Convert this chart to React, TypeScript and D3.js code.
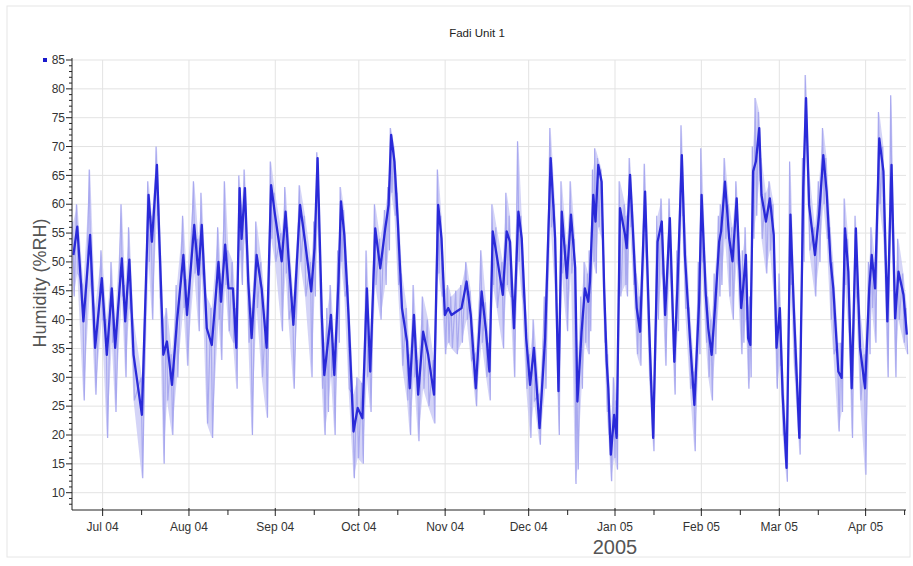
import React from 'react';
import * as d3 from 'd3';

const chartTitle = 'Fadi Unit 1';
const yAxisTitle = 'Humidity (%RH)';
const yearLabel = '2005';
const monthTickDates = ['2004-07-01','2004-08-01','2004-09-01','2004-10-01','2004-11-01','2004-12-01','2005-01-01','2005-02-01','2005-03-01','2005-04-01'];
const monthTickLabels = ['Jul 04','Aug 04','Sep 04','Oct 04','Nov 04','Dec 04','Jan 05','Feb 05','Mar 05','Apr 05'];
const yTickValues = [10,15,20,25,30,35,40,45,50,55,60,65,70,75,80,85];
const startDate = new Date(2004, 5, 20);
const endDate = new Date(2005, 3, 15, 12);

// days since 2004-06-20
const days = [
0.5,1.9,4.1,6.5,8.3,10.7,12.5,14.3,15.5,17.9,
19.1,20.6,22.1,25.1,27.5,28.7,30.5,31.4,32.8,34.1,
35.9,37.7,40.0,41.3,43.9,45.4,46.6,48.4,50.2,52.6,
53.5,55.0,56.2,57.8,59.0,60.2,60.9,62.1,63.3,64.5,
66.3,68.1,69.9,71.5,72.9,75.3,76.7,77.7,79.5,81.9,
83.7,85.9,87.1,88.2,89.7,90.6,91.8,93.0,94.2,95.7,
96.6,97.8,99.3,101.1,102.6,104.3,105.9,107.1,108.9,110.7,
112.5,113.7,114.6,115.8,117.0,118.5,120.3,121.3,122.8,124.3,
126.1,127.9,130.0,131.5,132.7,133.9,135.1,136.3,138.1,139.9,
141.7,143.2,145.0,147.1,148.7,149.9,151.1,152.5,154.7,156.1,
157.3,158.7,160.3,161.5,163.1,164.5,165.9,167.9,169.9,171.9,
173.5,174.7,175.9,177.7,179.2,180.7,181.5,183.0,184.2,185.4,
186.0,187.2,188.0,189.0,190.2,191.1,192.0,192.6,193.5,194.7,
195.6,196.8,198.6,199.2,200.4,201.5,202.8,204.0,205.8,207.2,
208.7,210.3,211.8,213.0,214.7,216.3,217.5,219.0,220.1,221.9,
223.5,225.2,226.1,227.6,228.5,229.7,230.9,232.4,233.1,234.5,
236.0,237.2,238.7,240.3,241.0,242.0,242.8,243.6,244.6,245.6,
246.8,247.6,249.2,250.6,252.0,253.0,254.2,255.2,256.6,258.0,
259.2,261.2,262.6,263.6,264.7,266.8,268.3,269.8,271.0,272.4,
273.4,275.2,276.4,277.6,278.8,280.0,281.5,283.0,284.8,286.3,
287.2,288.4,289.9,291.4,292.8,294.3,295.6,296.8,298.6,299.8
];

const rh = [
51.2,56.1,39.7,54.7,35.1,47.2,33.9,45.4,35.1,50.6,
39.7,50.4,33.9,23.5,61.6,53.5,66.8,53.5,33.9,36.2,
28.7,39.7,51.2,40.8,56.4,47.8,56.4,38.5,35.6,50.0,
43.1,53.0,45.4,45.4,35.1,62.8,54.0,62.8,46.6,36.8,
51.2,45.4,35.1,63.3,58.2,50.1,58.7,51.2,39.1,59.9,
53.5,44.9,52.4,68.0,40.8,30.4,35.6,40.8,30.4,46.6,
60.5,54.7,40.8,20.6,24.7,22.9,45.4,31.0,55.8,48.9,
55.8,59.9,72.0,67.4,57.0,42.0,36.2,28.1,40.8,27.0,
37.9,33.9,27.0,59.9,54.1,40.8,42.0,40.8,41.4,42.0,
46.6,40.8,28.1,44.9,37.9,31.0,55.3,51.2,44.3,55.3,
53.5,38.5,58.7,54.1,36.8,28.7,35.1,21.2,36.8,68.0,
54.1,27.6,58.7,47.2,58.2,49.0,25.8,37.9,45.4,43.1,
46.6,61.6,57.0,66.8,63.9,45.4,32.7,28.1,16.6,23.5,
19.5,59.3,54.7,52.4,65.1,54.7,42.0,37.9,62.2,39.7,
19.5,53.5,57.0,40.8,57.6,32.7,46.6,68.5,51.2,36.8,
25.2,43.1,61.6,44.3,38.5,33.9,42.0,53.5,55.3,63.9,
54.1,50.1,61.0,42.0,45.4,51.2,36.8,35.6,65.7,67.4,
73.2,61.6,57.0,61.0,54.7,35.1,42.0,27.0,14.3,58.2,
42.0,19.5,62.8,78.4,59.9,51.2,58.2,68.5,62.2,50.1,
45.4,31.0,29.9,55.8,48.3,28.1,55.8,35.1,28.1,45.4,
51.2,45.4,71.4,65.7,39.7,66.8,40.2,48.3,44.3,37.4
];

const rhMax = [
57,60,46,66,42,52,40,50,40,60,
46,56,40,30,64,58,70,60,40,42,
34,46,58,47,64,54,62,44,42,56,
48,64,52,50,42,65,60,66,52,42,
57,50,40,67.4,62,55,63,56,44,63.3,
58,50,57,69,46,36,42,46,36,52,
63,59,46,27,30,29,52,37,60,54,
59,63,73.2,70,62,48,42,34,46,33,
44,40,33,66,58,45,46,44,45,46,
50,45,34,52,43,36,60,56,50,62,
58,44,70.9,58,42,34,40,27,44,73.2,
60,34,64,53,64,54,32,44,50,48,
52,66,69.7,68,66,52,38,34,22,30,
26,64,60,58,68,60,48,44,67,46,
25,58,61,46,61,38,52,73.7,58,42,
31,50,69.7,50,44,40,48,58,60,68,
60,56,64,48,52,56,42,44,70,78.4,
76,68,62,64,60,42,48,33,20,67.4,
48,26,68,82.4,66,56,64,73.2,68,56,
50,36,36,61,54,34,58,42,34,50,
56,50,76,70,46,78.9,46,54,48,42
];

const rhMin = [
44,48,26,46,27,40,19.5,36,24,44,
30,42,26,12.5,50,40,58,44,15,26,
20,30,42,32,48,38,48,22,19.5,40,
33,46,38,36,28,52,46,54,36,20,
42,30,23,54,50,38,48,40,28,50,
44,30,44,56,28,20,24,30,20,36,
50,44,28,12.5,16,15,30,24,46,40,
46,52,62,58,46,32,26,20,30,18.9,
28,25,22,48,44,34,36,35,34,36,
40,33,25,36,30,26,46,42,35,46,
44,30,50,44,28,19.5,26,18.3,28,56,
44,20,48,38,48,11.5,14,28,36,34,
38,50,48,56,54,36,24,20,12,16,
14,44,46,44,56,46,34,32,52,30,
17.2,40,48,32,48,27,38,58,42,28,
17.2,34,50,36,30,26,34,44,46,54,
44,40,50,34,36,40,28,30,54,58,
64,54,48,52,44,28,32,20,11.9,46,
32,16.6,50,70,52,44,50,60,54,40,
34,20.6,24,46,38,19.5,44,26,13.1,34,
42,36,60,54,30,56,30,40,36,34
];

const W = 913, H = 566;
const L = 72, R = 906, T = 60, B = 510;
const FONT = "'Liberation Sans', Arial, sans-serif";

const toDate = (d: number) => new Date(startDate.getTime() + d * 864e5);

export default function App() {
  const x = d3.scaleTime().domain([startDate, endDate]).range([L, R]);
  const y = d3.scaleLinear().domain([7, 85]).range([B, T]);

  const pts = days.map((d, i) => ({ t: toDate(d), d, v: rh[i], hi: rhMax[i], lo: rhMin[i] }));

  const band = d3.area<any>().x(p => x(p.t)).y0(p => y(p.lo)).y1(p => y(p.hi))(pts) || '';
  const zig: [number, number][] = [];
  pts.forEach(p => {
    zig.push([x(toDate(p.d - 0.3)), y(p.hi)]);
    zig.push([x(toDate(p.d + 0.3)), y(p.lo)]);
  });
  const zigPath = d3.line()(zig) || '';
  const mainPath = d3.line<any>().x(p => x(p.t)).y(p => y(p.v))(pts) || '';

  const monthDates = monthTickDates.map(s => {
    const [yy, mm, dd] = s.split('-').map(Number);
    return new Date(yy, mm - 1, dd);
  });
  const midMonths = d3.timeMonth.range(new Date(2004, 5, 1), endDate).map(m => new Date(m.getFullYear(), m.getMonth(), 15)).filter(m => m >= startDate && m <= endDate);
  const yMinor = d3.range(8, 86, 1).filter(v => v % 5 !== 0);

  return (
    <svg width={W} height={H} style={{ position: 'absolute', left: 0, top: 0, background: '#fff' }} fontFamily={FONT}>
      <rect x={0} y={0} width={W} height={H} fill="#fff" />
      <rect x={7} y={6} width={903} height={551} fill="none" stroke="#e6e6e6" />
      <text x={477} y={37} textAnchor="middle" fontSize={11.5} fill="#222">{chartTitle}</text>

      {/* grid */}
      {yTickValues.map(v => (
        <line key={'gy' + v} x1={L} x2={R} y1={y(v)} y2={y(v)} stroke="#e3e3e3" />
      ))}
      {monthDates.map((m, i) => (
        <line key={'gx' + i} x1={x(m)} x2={x(m)} y1={T} y2={B} stroke="#e3e3e3" />
      ))}

      {/* light range */}
      <path d={band} fill="#c2c2f4" opacity={0.7} />
      <path d={zigPath} fill="none" stroke="#a9a9ef" strokeWidth={1.2} />
      {/* main line */}
      <path d={mainPath} fill="none" stroke="#2a2ad8" strokeWidth={2.3} strokeLinejoin="round" />

      {/* y axis */}
      <line x1={L} x2={L} y1={T - 2} y2={B} stroke="#222" />
      {yTickValues.map(v => (
        <g key={'yt' + v}>
          <line x1={L - 6} x2={L} y1={y(v)} y2={y(v)} stroke="#222" />
          <text x={L - 7} y={y(v)} dy="0.35em" textAnchor="end" fontSize={12} fill="#333">{v}</text>
        </g>
      ))}
      {yMinor.map(v => (
        <line key={'ym' + v} x1={L - 3} x2={L} y1={y(v)} y2={y(v)} stroke="#222" />
      ))}

      {/* x axis */}
      <line x1={L} x2={R} y1={B} y2={B} stroke="#222" />
      {monthDates.map((m, i) => (
        <g key={'xt' + i}>
          <line x1={x(m)} x2={x(m)} y1={B - 2} y2={B + 6} stroke="#222" />
          <text x={x(m)} y={531} textAnchor="middle" fontSize={12} fill="#333">{monthTickLabels[i]}</text>
        </g>
      ))}
      {midMonths.map((m, i) => (
        <line key={'xm' + i} x1={x(m)} x2={x(m)} y1={B} y2={B + 5} stroke="#222" />
      ))}
      <text x={x(monthDates[6])} y={554} textAnchor="middle" fontSize={20} fill="#555">{yearLabel}</text>

      <text transform={`translate(46,283) rotate(-90)`} textAnchor="middle" fontSize={18} fill="#555">{yAxisTitle}</text>

      <rect x={43} y={58} width={4} height={4} fill="#1a1acc" />
    </svg>
  );
}
